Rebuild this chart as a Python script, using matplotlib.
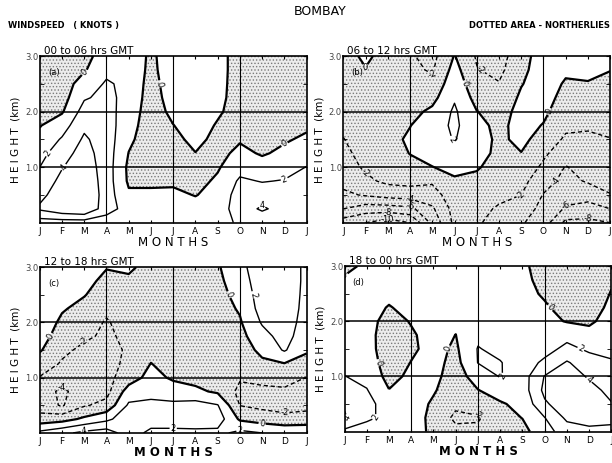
import numpy as np
import matplotlib
matplotlib.use("Agg")
import matplotlib.pyplot as plt

plt.rcParams['font.family'] = ['DejaVu Sans']
plt.rcParams['hatch.color'] = '#7a7a7a'
plt.rcParams['hatch.linewidth'] = 0.6

# Grid: months J..J (0..12), heights 0..3 km every 0.25 km
MONTHS = ['J', 'F', 'M', 'A', 'M', 'J', 'J', 'A', 'S', 'O', 'N', 'D', 'J']
HEIGHTS = [0.0, 0.25, 0.5, 0.75, 1.0, 1.25, 1.5, 1.75, 2.0, 2.25, 2.5, 2.75, 3.0]
LEVELS = [-10, -8, -6, -4, -2, 0, 2, 4]

# wind_x[month] = wind speed (knots) at each height, negative = northerly
wind_a = [
    [1.0, 4.3, 3.5, 2.8, 2.0, 1.3, 0.55, -0.1, -0.6, -1.0, -1.3, -1.5, -1.6],
    [1.0, 5.5, 5.0, 4.5, 3.9, 3.2, 2.2, 1.1, -0.2, -0.8, -1.1, -1.3, -1.4],
    [1.0, 6.0, 6.0, 5.6, 5.2, 4.8, 4.3, 3.6, 2.8, 1.8, 1.0, -0.2, -0.8],
    [1.0, 2.8, 3.0, 3.0, 3.0, 3.0, 3.0, 2.9, 2.7, 2.5, 2.2, 1.6, 1.2],
    [0.8, 1.2, 0.3, -0.3, -0.4, -0.05, 0.4, 0.8, 1.1, 1.4, 1.6, 1.7, 1.8],
    [0.8, 1.0, 0.4, -0.4, -0.8, -1.0, -1.1, -1.1, -1.0, -0.9, -0.8, -0.6, -0.5],
    [0.8, 1.2, 0.5, -0.4, -0.8, -0.9, -0.6, -0.05, 0.5, 0.9, 1.2, 1.4, 1.5],
    [0.8, 0.9, -0.1, -0.6, -0.6, -0.05, 0.6, 1.0, 1.3, 1.5, 1.6, 1.7, 1.7],
    [0.8, 1.0, 0.8, 0.3, -0.2, -0.6, -0.6, -0.2, 0.3, 0.7, 0.9, 1.0, 1.0],
    [2.5, 3.0, 2.8, 2.3, 1.3, 0.5, -0.2, -0.6, -0.9, -1.1, -1.2, -1.2, -1.2],
    [2.5, 4.3, 3.0, 1.9, 0.8, -0.2, -0.6, -0.9, -1.1, -1.2, -1.3, -1.3, -1.3],
    [2.5, 3.2, 2.8, 2.1, 1.2, 0.4, -0.2, -0.5, -0.8, -1.0, -1.1, -1.2, -1.2],
    [2.5, 3.0, 2.7, 2.3, 2.05, 1.2, 0.3, -0.3, -0.7, -0.9, -1.0, -1.1, -1.1],
]

wind_b = [
    [-9.0, -6.0, -4.4, -3.4, -2.9, -2.4, -2.05, -1.7, -1.4, -1.2, -1.0, -0.9, -0.8],
    [-10.0, -7.0, -3.8, -2.4, -1.7, -1.4, -1.2, -1.1, -1.0, -0.9, -0.6, -0.1, 0.4],
    [-11.0, -7.0, -3.2, -1.6, -1.1, -0.8, -0.6, -0.6, -0.7, -0.8, -0.9, -0.9, -0.8],
    [-10.0, -6.5, -3.0, -1.4, -0.5, 0.05, 0.3, -0.05, -0.6, -1.0, -1.3, -1.6, -1.8],
    [-5.5, -4.3, -2.9, -1.7, -0.05, 0.8, 1.2, 1.0, 0.4, -0.6, -1.5, -2.2, -2.6],
    [-1.5, -1.3, -0.8, -0.3, 0.6, 1.4, 2.1, 2.4, 2.3, 1.8, 1.3, 0.7, 0.1],
    [-1.8, -1.5, -1.0, -0.5, 0.2, 0.8, 0.9, 0.6, 0.05, -0.7, -1.4, -1.9, -2.2],
    [-2.6, -2.2, -1.6, -1.2, -0.8, -0.5, -0.4, -0.5, -0.8, -1.3, -1.9, -2.5, -2.8],
    [-3.8, -3.0, -2.0, -1.4, -0.6, -0.05, 0.5, 0.7, 0.6, 0.3, -0.1, -0.5, -0.8],
    [-5.0, -4.6, -4.1, -3.2, -2.4, -1.6, -0.8, -0.1, 0.4, 0.7, 0.9, 1.0, 1.0],
    [-8.5, -6.2, -5.3, -4.6, -4.1, -3.3, -2.3, -1.6, -1.1, -0.6, -0.2, 0.3, 0.6],
    [-8.5, -6.8, -5.2, -3.8, -3.2, -2.8, -2.3, -1.8, -1.3, -0.8, -0.1, 0.4, 0.6],
    [-8.0, -6.0, -4.1, -3.2, -2.8, -2.4, -2.05, -1.6, -1.2, -0.9, -0.5, 0.05, 0.3],
]

wind_c = [
    [2.5, -1.2, -3.0, -3.0, -2.1, -1.0, 0.2, 0.9, 1.3, 1.5, 1.6, 1.7, 1.7],
    [3.5, -0.8, -4.2, -4.4, -3.0, -2.2, -1.6, -1.0, -0.4, 0.2, 0.7, 1.0, 1.2],
    [4.5, 0.4, -2.2, -3.0, -3.0, -2.8, -2.4, -1.7, -1.2, -0.6, 0.1, 0.6, 0.9],
    [5.0, 1.5, -1.4, -2.6, -2.6, -2.6, -2.5, -2.3, -2.15, -1.7, -1.0, -0.5, 0.1],
    [3.0, 3.3, 2.3, 0.9, -1.0, -1.6, -1.8, -1.6, -1.3, -1.0, -0.6, -0.3, 0.3],
    [1.5, 3.0, 2.3, 1.6, 0.7, 0.05, -0.6, -0.9, -1.0, -1.0, -0.9, -0.8, -0.6],
    [1.5, 3.0, 2.4, 1.0, -0.3, -0.8, -1.0, -1.1, -1.1, -1.0, -0.9, -0.8, -0.7],
    [1.5, 3.2, 2.8, 0.4, -0.6, -0.9, -1.0, -1.1, -1.1, -1.0, -0.9, -0.7, -0.5],
    [1.5, 3.0, 2.1, -0.3, -0.9, -1.1, -1.2, -1.1, -1.0, -0.8, -0.6, -0.4, -0.2],
    [2.5, -0.3, -2.05, -2.5, -1.8, -1.4, -1.0, -0.6, -0.2, 0.2, 0.6, 1.0, 1.4],
    [2.0, -0.9, -2.5, -2.4, -1.5, -0.4, 0.5, 1.3, 2.2, 2.8, 3.0, 3.2, 3.3],
    [1.8, -1.5, -2.6, -2.3, -1.3, -0.1, 2.2, 2.8, 3.1, 3.3, 3.4, 3.4, 3.4],
    [1.8, -1.3, -2.5, -2.4, -2.05, -0.9, 0.3, 0.8, 1.1, 1.3, 1.4, 1.5, 1.5],
]

wind_d = [
    [1.5, 4.2, 3.8, 2.8, 2.05, 1.5, 1.2, 1.0, 0.9, 0.7, 0.5, 0.2, -0.4],
    [1.0, 2.4, 2.8, 2.1, 1.4, 1.0, 0.7, 0.6, 0.6, 0.6, 0.6, 0.5, 0.3],
    [1.0, 1.4, 0.8, 0.05, -0.6, -0.9, -1.0, -0.9, -0.6, -0.1, 0.4, 0.7, 0.8],
    [1.0, 1.2, 1.0, 0.8, 0.4, 0.05, -0.3, -0.2, 0.1, 0.5, 0.8, 0.9, 1.0],
    [-0.5, -0.7, -0.3, 0.2, 0.5, 0.6, 0.6, 0.6, 0.7, 0.8, 0.9, 1.0, 1.0],
    [-1.5, -2.4, -1.6, -1.2, -0.9, -0.6, -0.3, -0.02, 0.3, 0.6, 0.8, 0.9, 1.0],
    [-1.6, -2.2, -1.0, -0.05, 0.9, 2.05, 2.1, 1.6, 1.2, 1.0, 0.9, 0.9, 0.9],
    [-1.2, -0.8, -0.2, 0.8, 2.1, 2.1, 1.5, 1.2, 1.0, 0.9, 0.8, 0.7, 0.6],
    [-0.6, 0.05, 0.5, 1.0, 1.1, 1.0, 0.9, 0.8, 0.7, 0.6, 0.5, 0.4, 0.3],
    [1.2, 1.95, 3.7, 4.5, 4.1, 2.4, 1.3, 0.8, 0.5, 0.2, -0.2, -0.5, -0.7],
    [3.0, 4.4, 5.2, 5.3, 4.9, 4.2, 2.5, 1.4, -0.1, -0.6, -0.9, -1.1, -1.2],
    [3.5, 4.8, 5.0, 4.6, 3.8, 2.8, 1.7, 0.6, -0.3, -0.8, -1.1, -1.2, -1.3],
    [3.5, 4.5, 4.1, 3.5, 2.8, 2.15, 1.6, 1.1, 0.7, 0.4, 0.1, -0.2, -0.4],
]

panels = [
    ('00 to 06 hrs GMT', '(a)', wind_a, [0.065, 0.519, 0.436, 0.360]),
    ('06 to 12 hrs GMT', '(b)', wind_b, [0.561, 0.519, 0.436, 0.360]),
    ('12 to 18 hrs GMT', '(c)', wind_c, [0.065, 0.065, 0.436, 0.358]),
    ('18 to 00 hrs GMT', '(d)', wind_d, [0.563, 0.068, 0.436, 0.357]),
]

fig = plt.figure(figsize=(6.12, 4.63), dpi=100)

months = np.arange(len(MONTHS))
X, Y = np.meshgrid(months, HEIGHTS)

lws = [1.6 if lv == 0 else 1.0 for lv in LEVELS]
lstyles = [(0, (3, 2)) if lv < 0 else 'solid' for lv in LEVELS]

for k, (title, tag, wind, rect) in enumerate(panels):
    ax = fig.add_axes(rect)
    Z = np.array(wind).T

    # dotted area = northerlies (negative)
    ax.contourf(X, Y, Z, levels=[-50, 0], colors=['#ececec'], hatches=['.....'])
    cs = ax.contour(X, Y, Z, levels=LEVELS, colors='k', linewidths=lws,
                    linestyles=lstyles)
    ax.clabel(cs, fmt='%d', fontsize=6, inline=True, inline_spacing=1)

    for m in (3, 6, 9):
        ax.axvline(m, color='k', lw=0.8)
    for h in (1, 2):
        ax.axhline(h, color='k', lw=1.1)

    ax.set_xlim(0, 12)
    ax.set_ylim(0, 3)
    ax.set_xticks(months)
    ax.set_xticklabels(MONTHS, fontsize=6.5)
    ax.set_yticks([1, 2, 3])
    ax.set_yticklabels(['1.0', '2.0', '3.0'], fontsize=6, color='#444444')
    ax.set_yticks([0.5, 1.5, 2.5], minor=True)
    ax.tick_params(axis='x', direction='in', length=2, pad=3, top=True)
    ax.tick_params(axis='y', which='both', direction='in', length=3, pad=1, right=True)
    for sp in ax.spines.values():
        sp.set_linewidth(1.2)

    bold = 'bold' if k >= 2 else 'normal'
    ax.set_xlabel('M O N T H S', fontsize=8.5, fontweight=bold, labelpad=0)
    ax.set_ylabel('H E I G H T  (km)', fontsize=7.5, labelpad=3)

    ax.text(0.015, 1.0, title, transform=ax.transAxes, fontsize=7.5,
            ha='left', va='bottom')
    ax.text(0.03, 0.9, tag, transform=ax.transAxes, fontsize=6, ha='left', va='center')

fig.text(0.523, 0.975, 'BOMBAY', fontsize=9, ha='center', va='center')
fig.text(0.013, 0.945, 'WINDSPEED   ( KNOTS )', fontsize=6, fontweight='bold',
         ha='left', va='center')
fig.text(0.997, 0.945, 'DOTTED AREA - NORTHERLIES', fontsize=6, fontweight='bold',
         ha='right', va='center')

fig.savefig('out.png', dpi=100)
